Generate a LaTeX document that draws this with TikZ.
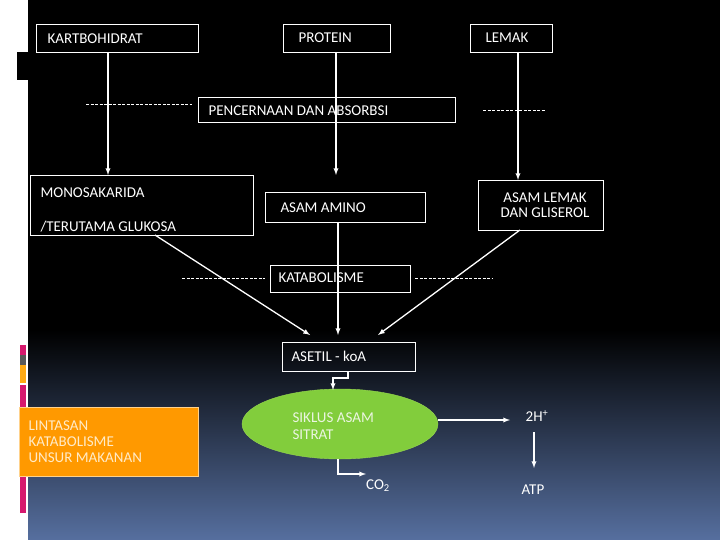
\documentclass[tikz,border=0pt]{standalone}
\usepackage{fontspec}
\setmainfont{Carlito}
\usetikzlibrary{shapes.geometric}
\definecolor{bgblue}{RGB}{86,111,159}
\definecolor{pinkb}{RGB}{214,25,110}
\definecolor{orangeb}{RGB}{255,170,20}
\definecolor{grn}{RGB}{130,205,60}
\definecolor{grnb}{RGB}{150,215,80}
\definecolor{grntxt}{RGB}{235,245,225}
\definecolor{org}{RGB}{255,153,0}
\definecolor{orgb}{RGB}{255,210,140}
\definecolor{orgtxt}{RGB}{255,235,200}
\begin{document}
\begin{tikzpicture}[x=1pt,y=-1pt,
 bx/.style={draw=white,line width=0.8pt,text=white,inner sep=0pt},
 txt/.style={text=white,font=\fontsize{15}{18}\selectfont},
 arr/.style={draw=white,line width=1.3pt,-latex},
 dsh/.style={draw=white,dash pattern=on 3pt off 1.5pt,line width=0.6pt}]
\useasboundingbox (0,0) rectangle (720,540);
\fill[white] (0,0) rectangle (28,540);
\fill[black] (28,0) rectangle (720,330);
\shade[top color=black,bottom color=bgblue] (28,330) rectangle (720,540);
\fill[black] (17,52) rectangle (28,80);
\fill[pinkb] (20,345) rectangle (26,355);
\fill[gray!70!black] (20,355) rectangle (26,365);
\fill[orangeb] (20,365) rectangle (26,383);
\fill[pinkb] (20,385) rectangle (26,513);
% boxes
\node[bx,minimum width=162,minimum height=28,anchor=north west] (kb) at (36,24) {};
\node[txt,anchor=west] at (44,39) {KARTBOHIDRAT};
\node[bx,minimum width=107,minimum height=28,anchor=north west] (pr) at (283,24) {};
\node[txt,anchor=west] at (295,38) {PROTEIN};
\node[bx,minimum width=82,minimum height=28,anchor=north west] (lm) at (470,24) {};
\node[txt,anchor=west] at (482,38) {LEMAK};
\node[bx,minimum width=257,minimum height=25,anchor=north west] (pc) at (198,97) {};
\node[txt,anchor=west] at (205,111) {PENCERNAAN DAN ABSORBSI};
\draw[dsh] (86,104) -- (192,104);
\draw[dsh] (483,110) -- (545,110);
\node[bx,minimum width=223,minimum height=60,anchor=north west] (mo) at (30,175) {};
\node[txt,anchor=west] at (37,193) {MONOSAKARIDA};
\node[txt,anchor=west] at (37,227) {/TERUTAMA GLUKOSA};
\node[bx,minimum width=160,minimum height=30,anchor=north west] (aa) at (265,192) {};
\node[txt,anchor=west] at (277,208) {ASAM AMINO};
\node[bx,minimum width=125,minimum height=50,anchor=north west] (al) at (478,180) {};
\node[txt,align=center,anchor=center] at (545,205) {ASAM LEMAK\\[-3pt]DAN GLISEROL};
\node[bx,minimum width=140,minimum height=27,anchor=north west] (kt) at (270,265) {};
\node[txt,anchor=west] at (275,278) {KATABOLISME};
\draw[dsh] (182,278) -- (265,278);
\draw[dsh] (415,278) -- (492,278);
\node[bx,minimum width=133,minimum height=29,anchor=north west] (as) at (282,342) {};
\node[txt,anchor=west] at (288,356) {ASETIL - koA};
\node[ellipse,fill=grn,draw=grnb,minimum width=196,minimum height=70] (sk) at (340,424) {};
\node[txt,anchor=west,align=left,text=grntxt] at (289,426) {SIKLUS ASAM\\[-1pt]SITRAT};
\node[fill=org,draw=orgb,minimum width=179,minimum height=69,anchor=north west,inner sep=0pt] (li) at (19,407) {};
\node[txt,anchor=west,align=left,text=orgtxt] at (25,442) {LINTASAN\\[-2pt]KATABOLISME\\[-2pt]UNSUR MAKANAN};
\node[txt] (h) at (537,416) {2H\textsuperscript{+}};
\node[txt] (atp) at (533,490) {ATP};
\node[txt] (co) at (378,486) {CO\textsubscript{2}};
% arrows
\draw[arr] (108,52) -- (108,175);
\draw[arr] (336,52) -- (336,175);
\draw[arr] (518,52) -- (518,180);
\draw[arr] (155,235) -- (310,335);
\draw[arr] (338,222) -- (338,335);
\draw[arr] (520,230) -- (378,335);
\draw[arr] (348,371) -- (348,378) -- (333,378) -- (333,390);
\draw[arr] (338,459) -- (338,474) -- (366,474);
\draw[arr] (438,420) -- (510,420);
\draw[arr] (534,432) -- (534,468);
\end{tikzpicture}
\end{document}
